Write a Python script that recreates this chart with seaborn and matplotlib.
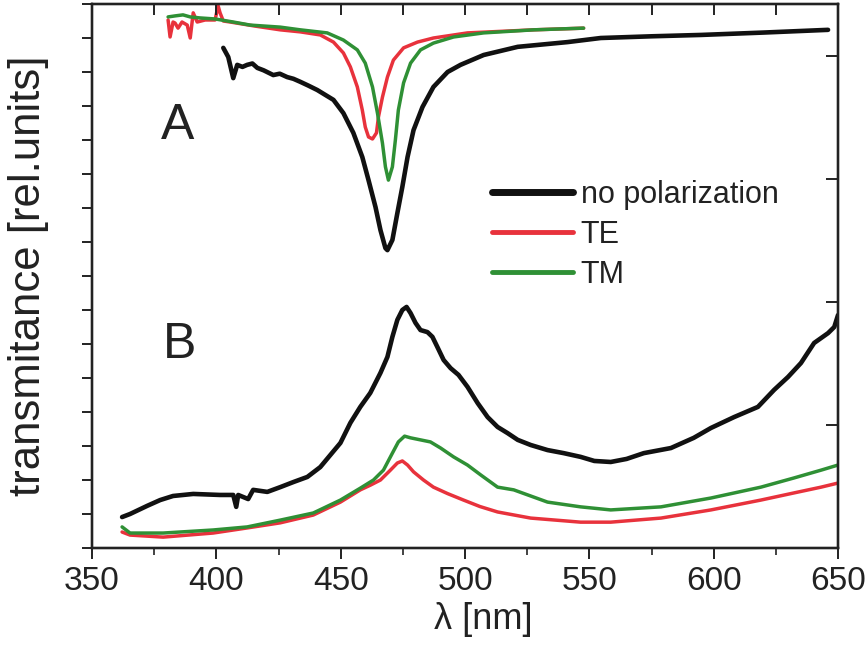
import numpy as np
import pandas as pd
import matplotlib
matplotlib.use("Agg")
import matplotlib.pyplot as plt
from matplotlib.lines import Line2D
import seaborn as sns

# ---------------- data ----------------
# Panel A (upper curves)
a_none_nm = [402.8, 404.8, 406.8, 408.4, 410.5, 412.4, 414.5, 416.5, 419.0, 422.9, 425.5, 428.5,
             431.0, 433.8, 437.0, 440.6, 447.1, 451.1, 455.1, 458.7, 461.2, 464.0, 466.0, 468.0,
             468.8, 470.8, 472.8, 474.8, 476.9, 479.3, 482.9, 487.3, 493.0, 498.2, 507.5, 521.2,
             541.3, 554.6, 575.0, 594.9, 620.0, 646.0]
a_none_T = [14.71, 14.44, 13.82, 14.21, 14.15, 14.21, 14.25, 14.12, 14.05, 13.91, 13.95, 13.85,
            13.80, 13.71, 13.60, 13.47, 13.18, 12.79, 12.21, 11.50, 10.82, 10.03, 9.35, 8.82,
            8.76, 9.06, 9.85, 10.62, 11.50, 12.29, 12.97, 13.56, 14.00, 14.21, 14.50, 14.74,
            14.88, 15.00, 15.05, 15.09, 15.16, 15.24]

a_te_nm = [380.6, 381.4, 382.6, 383.4, 384.6, 386.2, 388.3, 389.5, 390.7, 392.3, 395.5, 399.5,
           400.7, 401.5, 402.8, 405.6, 415.6, 425.7, 433.8, 441.8, 447.1, 451.1, 453.9, 456.7,
           458.7, 459.9, 461.2, 462.8, 464.4, 465.2, 466.8, 468.8, 471.2, 475.3, 480.9, 487.3,
           501.0, 527.6, 547.7]
a_te_T = [15.53, 15.03, 15.47, 15.44, 15.29, 15.47, 15.38, 15.00, 15.74, 15.47, 15.53, 15.53,
          15.95, 15.74, 15.50, 15.47, 15.35, 15.24, 15.18, 15.09, 14.88, 14.56, 14.15, 13.56,
          12.88, 12.38, 12.09, 12.03, 12.21, 12.68, 13.26, 13.85, 14.35, 14.71, 14.88, 15.00,
          15.15, 15.24, 15.29]

a_tm_nm = [380.6, 383.4, 386.6, 389.5, 393.5, 399.5, 406.8, 413.6, 425.7, 433.8, 444.6, 451.1,
           456.7, 459.9, 462.8, 464.8, 466.8, 468.0, 469.2, 470.8, 472.0, 473.2, 475.3, 478.1,
           482.1, 487.3, 495.4, 507.5, 527.6, 547.7]
a_tm_T = [15.62, 15.65, 15.68, 15.62, 15.59, 15.56, 15.47, 15.38, 15.32, 15.24, 15.15, 14.94,
          14.65, 14.26, 13.56, 12.79, 11.91, 11.21, 10.82, 11.21, 12.00, 12.88, 13.68, 14.26,
          14.65, 14.85, 15.03, 15.15, 15.24, 15.29]

# Panel B (lower curves)
b_none_nm = [362.1, 365.3, 372.2, 377.4, 382.6, 390.7, 401.5, 406.8, 408.0, 408.8, 412.8, 414.8,
             420.5, 425.7, 431.0, 436.6, 441.8, 445.9, 449.9, 453.9, 457.9, 461.9, 466.0, 468.8,
             470.8, 472.8, 474.8, 476.5, 478.1, 480.1, 482.1, 484.9, 486.9, 488.9, 491.4, 494.2,
             497.4, 501.0, 505.1, 509.1, 513.1, 517.1, 521.2, 526.4, 533.2, 539.7, 546.5, 552.0,
             558.6, 565.0, 571.9, 582.8, 592.0, 598.9, 608.2, 617.8, 624.3, 629.9, 635.1, 640.4,
             646.0, 648.5, 650.0]
b_none_T = [0.91, 1.00, 1.24, 1.41, 1.53, 1.59, 1.56, 1.56, 1.21, 1.56, 1.44, 1.71,
            1.65, 1.79, 1.94, 2.09, 2.38, 2.74, 3.09, 3.68, 4.15, 4.56, 5.15, 5.62,
            6.21, 6.71, 7.00, 7.09, 6.91, 6.62, 6.41, 6.35, 6.21, 5.91, 5.53, 5.29,
            5.09, 4.74, 4.26, 3.85, 3.56, 3.38, 3.18, 3.03, 2.88, 2.79, 2.68, 2.56,
            2.53, 2.62, 2.79, 2.94, 3.24, 3.53, 3.85, 4.15, 4.65, 5.03, 5.44, 6.03,
            6.32, 6.50, 6.85]

b_te_nm = [362.1, 365.3, 378.6, 398.7, 412.4, 425.7, 439.0, 449.9, 457.9, 462.0, 466.0, 470.0,
           472.8, 474.8, 476.9, 479.3, 483.3, 487.3, 493.0, 499.4, 506.0, 513.1, 526.4, 546.5,
           558.6, 578.8, 598.9, 619.0, 632.3, 643.2, 650.0]
b_te_T = [0.47, 0.38, 0.32, 0.44, 0.59, 0.74, 0.97, 1.35, 1.71, 1.85, 2.00, 2.29,
          2.50, 2.56, 2.44, 2.24, 2.00, 1.79, 1.60, 1.41, 1.22, 1.06, 0.88, 0.76,
          0.76, 0.88, 1.12, 1.41, 1.62, 1.79, 1.91]

b_tm_nm = [362.1, 365.3, 378.6, 398.7, 412.4, 425.7, 439.0, 449.9, 457.9, 463.2, 467.2, 470.8,
           473.2, 475.7, 478.1, 482.1, 486.1, 490.2, 495.4, 501.0, 506.3, 513.1, 519.6, 533.2,
           546.5, 558.6, 578.8, 598.9, 619.0, 632.3, 643.2, 650.0]
b_tm_T = [0.62, 0.44, 0.44, 0.53, 0.62, 0.82, 1.03, 1.41, 1.76, 2.00, 2.29, 2.79,
          3.12, 3.29, 3.24, 3.18, 3.12, 2.94, 2.68, 2.44, 2.15, 1.79, 1.71, 1.35,
          1.21, 1.12, 1.21, 1.47, 1.79, 2.06, 2.29, 2.44]

legend_labels = ["no polarization", "TE", "TM"]
x_ticks = [350, 400, 450, 500, 550, 600, 650]
x_tick_labels = ["350", "400", "450", "500", "550", "600", "650"]

# ---------------- styling ----------------
sns.set_theme(style="white")
plt.rcParams["font.family"] = ["Liberation Sans", "DejaVu Sans"]

C_BLACK = "#111111"
C_RED = "#e8323c"
C_GREEN = "#2f9035"
C_TEXT = "#222222"

fig = plt.figure(figsize=(8.68, 6.46), dpi=100)
ax = fig.add_axes([92 / 868, 1 - 548 / 646, (838 - 92) / 868, (548 - 4) / 646])

curves = [
    (a_te_nm, a_te_T, C_RED, 2.5),
    (a_tm_nm, a_tm_T, C_GREEN, 2.5),
    (a_none_nm, a_none_T, C_BLACK, 3.3),
    (b_te_nm, b_te_T, C_RED, 2.5),
    (b_tm_nm, b_tm_T, C_GREEN, 2.5),
    (b_none_nm, b_none_T, C_BLACK, 3.3),
]
for xs, ys, col, lw in curves:
    df = pd.DataFrame({"nm": xs, "T": ys})
    sns.lineplot(data=df, x="nm", y="T", color=col, lw=lw, ax=ax,
                 estimator=None, sort=False, solid_joinstyle="round",
                 solid_capstyle="round")

ax.set_xlim(350, 650)
ax.set_ylim(0, 16)

# ticks
ax.set_xticks(x_ticks)
ax.set_xticklabels(x_tick_labels)
ax.set_xticks(np.arange(375, 650, 50), minor=True)
ax.set_yticks(np.arange(0, 17, 1))
ax.set_yticklabels([])
ax.tick_params(axis="x", which="major", direction="out", length=8, width=1.4,
               labelsize=21, pad=5, bottom=True, colors=C_TEXT)
ax.tick_params(axis="x", which="minor", direction="out", length=5, width=1.2, bottom=True,
               colors=C_TEXT)
ax.tick_params(axis="y", which="major", direction="out", length=7, width=1.4, left=True,
               colors=C_TEXT)
for lab in ax.get_xticklabels():
    lab.set_fontfamily(["Liberation Sans Narrow", "Liberation Sans"])
    lab.set_fontsize(24)

ax_top = ax.twiny()
ax_top.set_xlim(ax.get_xlim())
ax_top.set_xticks(np.arange(350, 651, 25))
ax_top.tick_params(axis="x", direction="in", length=8, width=1.4, top=True,
                   bottom=False, labeltop=False, labelbottom=False, colors=C_TEXT)
ax_right = ax.twinx()
ax_right.set_ylim(ax.get_ylim())
ax_right.set_yticks([0, 3.615, 7.23, 10.845, 14.46])
ax_right.tick_params(axis="y", direction="in", length=9, width=1.4, right=True,
                     left=False, labelright=False, labelleft=False, colors=C_TEXT)
ax_right.grid(False)
ax_top.grid(False)

for a in (ax, ax_top, ax_right):
    for s in a.spines.values():
        s.set_linewidth(1.6)
        s.set_color(C_TEXT)

ax.set_xlabel("λ [nm]", fontsize=26, color=C_TEXT)
ax.xaxis.set_label_coords((483 - 92) / 746, -0.10)
ax.set_ylabel("transmitance [rel.units]", fontsize=31.5, color=C_TEXT)
ax.yaxis.set_label_coords(-0.057, 0.50)

ax.text(0.115, 0.776, "A", transform=ax.transAxes, fontsize=36, ha="center",
        va="center", color=C_TEXT)
ax.text(0.118, 0.374, "B", transform=ax.transAxes, fontsize=36, ha="center",
        va="center", color=C_TEXT)

handles = [Line2D([], [], color=C_BLACK, lw=5.0),
           Line2D([], [], color=C_RED, lw=3.5),
           Line2D([], [], color=C_GREEN, lw=3.5)]
leg = ax.legend(handles, legend_labels, loc="upper left",
                bbox_to_anchor=((492 - 92) / 746, (548 - 180) / 544),
                frameon=False, fontsize=22, handlelength=2.65, handletextpad=0.25,
                labelspacing=0.33, borderpad=0, borderaxespad=0)
for t in leg.get_texts():
    t.set_color(C_TEXT)

fig.savefig("out.png", dpi=100)
